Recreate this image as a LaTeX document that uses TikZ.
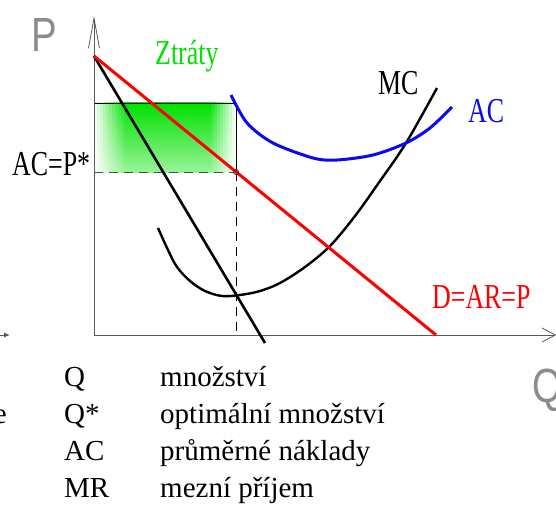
\documentclass[tikz,border=0pt]{standalone}
\usepackage{fontspec}
\setmainfont{Liberation Serif}
\newfontfamily\narrowserif[FakeStretch=0.74]{Liberation Serif}
\newfontfamily\axisfont[FakeStretch=0.8]{Liberation Sans}
\usetikzlibrary{arrows.meta}

\definecolor{lossgreen}{RGB}{0,225,0}
\definecolor{acblue}{RGB}{10,10,240}

\begin{document}
\begin{tikzpicture}[
    x=1pt, y=-1pt,
    axis/.style={draw=black!65, line width=1pt},
    guide/.style={draw=black, line width=0.8pt},
    guidedash/.style={guide, dash pattern=on 9pt off 6pt},
    demand/.style={draw=red, line width=3pt},
    mrline/.style={draw=black, line width=2.6pt},
    mccurve/.style={draw=black, line width=2.4pt},
    accurve/.style={draw=acblue, line width=3pt},
    curvelabel/.style={font=\narrowserif\fontsize{35}{40}\selectfont, inner sep=0pt, anchor=base west},
    legend/.style={font=\fontsize{29}{34}\selectfont, inner sep=0pt, anchor=base west},
    axislabel/.style={font=\axisfont\fontsize{48}{56}\selectfont, text=black!45, inner sep=0pt, anchor=base west}
]
\useasboundingbox (0,0) rectangle (556,508);

% Key points
\coordinate (origin) at (94,335);
\coordinate (ytip) at (94,16);
\coordinate (xtip) at (556,335);
\coordinate (ptop) at (94,56);
\coordinate (dend) at (436,335);
\coordinate (mrend) at (265,343);
\coordinate (lossnw) at (94,103);
\coordinate (lossne) at (236,103);
\coordinate (losssw) at (94,172);
\coordinate (lossse) at (236,172);
\coordinate (qstar) at (236,335);

% Loss area, soft green patch built column by column
\begin{scope}
    \clip (lossnw) rectangle (lossse);
    \foreach \col in {0,...,47} {
        \pgfmathsetmacro\colx{94+3*\col}
        \pgfmathsetmacro\colint{100*max(0,min(1,min((\colx+1.5-94)/32,(236-\colx-1.5)/26)))}
        \pgfmathsetmacro\colbot{0.4*\colint}
        \shade[top color=lossgreen!\colint!white, bottom color=lossgreen!\colbot!white] (\colx,103) rectangle ++(3.4,69);
    }
\end{scope}
\draw[guide] (lossnw) -- (lossne) -- (lossse);
\draw[guidedash, draw=black!70] (losssw) -- (lossse);
\draw[guidedash] (lossse) -- (qstar);

% Axes
\draw[axis, -{Straight Barb[length=30pt, width=11pt, line width=0.8pt]}] (origin) -- (ytip);
\draw[axis, -{Straight Barb[length=13pt, width=14pt, line width=0.8pt]}] (origin) -- (xtip);
\draw[axis, -{Latex[length=6pt, width=5pt]}] (-4,335) -- (10,335);

% Curves
\draw[mccurve] plot[smooth, tension=0.55] coordinates {(158,228) (168,250) (177,267) (190,281) (205,291) (222,296) (240,295) (260,291) (280,283) (305,267) (330,246) (355,216) (380,181) (406,143) (437,88)};
\draw[accurve] plot[smooth] coordinates {(231,95) (247,123) (273,143) (313,158) (337,160) (373,155) (406,143) (430,128) (452,107)};
\draw[mrline] (ptop) -- (mrend);
\draw[demand] (ptop) -- (dend);
\draw[draw=black!80, line width=0.8pt] (lossse) circle (2.5pt);

% Labels
\node[curvelabel, text=lossgreen] (ztraty) at (155,65) {Ztráty};
\node[curvelabel] (mclabel) at (378,95) {MC};
\node[curvelabel, text=acblue] (aclabel) at (468,122) {AC};
\node[curvelabel, text=red] (dlabel) at (432,308) {D=AR=P};
\node[curvelabel] (pstar) at (12,175) {AC=P*};
\node[axislabel] (plabel) at (31,52) {P};
\node[axislabel] (qlabel) at (532,402) {Q};

% Legend
\node[legend, anchor=base east] (cut) at (7,423) {e};
\foreach \sym/\txt [count=\i from 0] in {Q/množství, Q*/optimální množství, AC/průměrné náklady, MR/mezní příjem} {
    \node[legend] (sym\i) at (64,386+37.3*\i) {\sym};
    \node[legend] (txt\i) at (160,386+37.3*\i) {\txt};
}
\end{tikzpicture}
\end{document}
